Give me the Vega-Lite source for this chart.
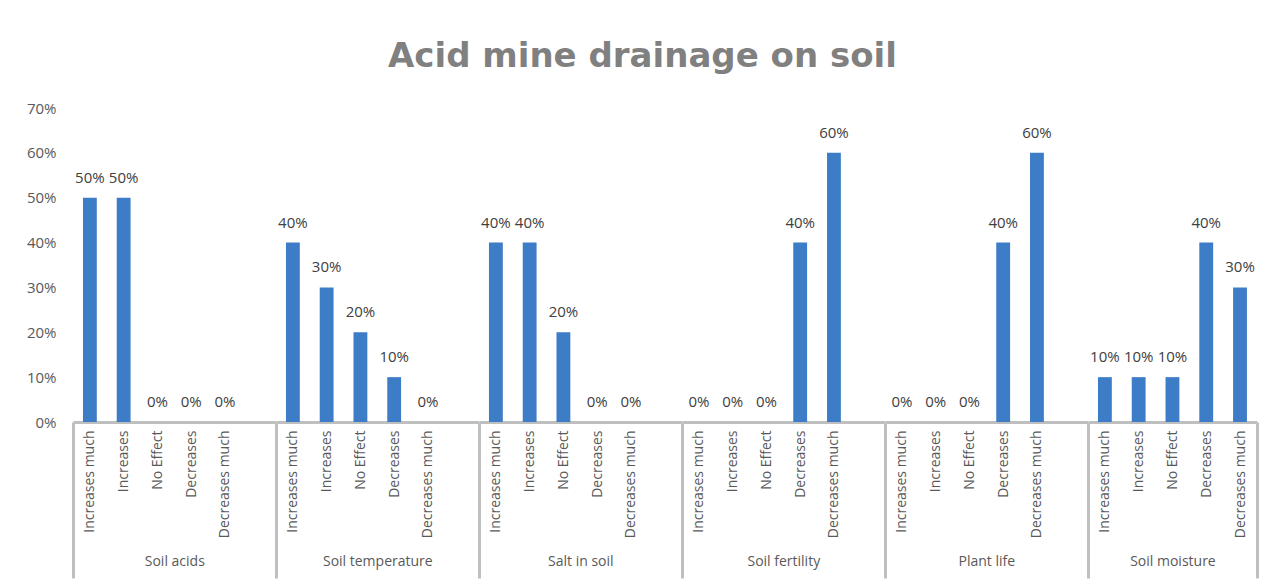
{
  "$schema": "https://vega.github.io/schema/vega-lite/v6.json",
  "padding": {"left": 26, "top": 40, "right": 5, "bottom": 0},
  "background": "white",
  "title": {"text": "Acid mine drainage on soil", "font": "DejaVu Sans", "fontSize": 34, "fontWeight": "bold", "color": "#808080", "anchor": "middle", "offset": 27},
  "data": {"values": [
    {"group": "Soil acids", "category": "Increases much", "value": 0.5},
    {"group": "Soil acids", "category": "Increases", "value": 0.5},
    {"group": "Soil acids", "category": "No Effect", "value": 0},
    {"group": "Soil acids", "category": "Decreases", "value": 0},
    {"group": "Soil acids", "category": "Decreases much", "value": 0},
    {"group": "Soil temperature", "category": "Increases much", "value": 0.4},
    {"group": "Soil temperature", "category": "Increases", "value": 0.3},
    {"group": "Soil temperature", "category": "No Effect", "value": 0.2},
    {"group": "Soil temperature", "category": "Decreases", "value": 0.1},
    {"group": "Soil temperature", "category": "Decreases much", "value": 0},
    {"group": "Salt in soil", "category": "Increases much", "value": 0.4},
    {"group": "Salt in soil", "category": "Increases", "value": 0.4},
    {"group": "Salt in soil", "category": "No Effect", "value": 0.2},
    {"group": "Salt in soil", "category": "Decreases", "value": 0},
    {"group": "Salt in soil", "category": "Decreases much", "value": 0},
    {"group": "Soil fertility", "category": "Increases much", "value": 0},
    {"group": "Soil fertility", "category": "Increases", "value": 0},
    {"group": "Soil fertility", "category": "No Effect", "value": 0},
    {"group": "Soil fertility", "category": "Decreases", "value": 0.4},
    {"group": "Soil fertility", "category": "Decreases much", "value": 0.6},
    {"group": "Plant life", "category": "Increases much", "value": 0},
    {"group": "Plant life", "category": "Increases", "value": 0},
    {"group": "Plant life", "category": "No Effect", "value": 0},
    {"group": "Plant life", "category": "Decreases", "value": 0.4},
    {"group": "Plant life", "category": "Decreases much", "value": 0.6},
    {"group": "Soil moisture", "category": "Increases much", "value": 0.1},
    {"group": "Soil moisture", "category": "Increases", "value": 0.1},
    {"group": "Soil moisture", "category": "No Effect", "value": 0.1},
    {"group": "Soil moisture", "category": "Decreases", "value": 0.4},
    {"group": "Soil moisture", "category": "Decreases much", "value": 0.3}
  ]},
  "spacing": 0,
  "bounds": "flush",
  "resolve": {"scale": {"x": "independent", "y": "independent"}},
  "hconcat": [
    {
      "width": 202.6, "height": 314,
      "transform": [{"filter": "datum.group === 'Soil acids'"}],
      "encoding": {
        "x": {"field": "category", "type": "nominal", "title": "Soil acids",
          "scale": {"domain": ["Increases much", "Increases", "No Effect", "Decreases", "Decreases much", " "], "paddingInner": 0, "paddingOuter": 0},
          "axis": {"tickOpacity": {"condition": {"test": "datum.extra", "value": 1}, "value": 0}}},
        "y": {"field": "value", "type": "quantitative", "scale": {"domain": [0, 0.7]},
          "axis": {"values": [0, 0.1, 0.2, 0.3, 0.4, 0.5, 0.6, 0.7], "format": ".0%", "title": null, "grid": false, "domain": false, "ticks": false, "labelPadding": 17, "labelFont": "Open Sans", "labelFontSize": 15, "labelColor": "#595959"}}
      },
      "layer": [
        {"mark": {"type": "bar", "width": {"band": 0.41}}},
        {"mark": {"type": "text"}, "encoding": {"text": {"field": "value", "type": "quantitative", "format": ".0%"}}}
      ]
    },
    {
      "width": 202.6, "height": 314,
      "transform": [{"filter": "datum.group === 'Soil temperature'"}],
      "encoding": {
        "x": {"field": "category", "type": "nominal", "title": "Soil temperature",
          "scale": {"domain": ["Increases much", "Increases", "No Effect", "Decreases", "Decreases much", " "], "paddingInner": 0, "paddingOuter": 0},
          "axis": {"tickOpacity": {"condition": {"test": "datum.extra", "value": 1}, "value": 0}}},
        "y": {"field": "value", "type": "quantitative", "scale": {"domain": [0, 0.7]}, "axis": null}
      },
      "layer": [
        {"mark": {"type": "bar", "width": {"band": 0.41}}},
        {"mark": {"type": "text"}, "encoding": {"text": {"field": "value", "type": "quantitative", "format": ".0%"}}}
      ]
    },
    {
      "width": 202.6, "height": 314,
      "transform": [{"filter": "datum.group === 'Salt in soil'"}],
      "encoding": {
        "x": {"field": "category", "type": "nominal", "title": "Salt in soil",
          "scale": {"domain": ["Increases much", "Increases", "No Effect", "Decreases", "Decreases much", " "], "paddingInner": 0, "paddingOuter": 0},
          "axis": {"tickOpacity": {"condition": {"test": "datum.extra", "value": 1}, "value": 0}}},
        "y": {"field": "value", "type": "quantitative", "scale": {"domain": [0, 0.7]}, "axis": null}
      },
      "layer": [
        {"mark": {"type": "bar", "width": {"band": 0.41}}},
        {"mark": {"type": "text"}, "encoding": {"text": {"field": "value", "type": "quantitative", "format": ".0%"}}}
      ]
    },
    {
      "width": 202.6, "height": 314,
      "transform": [{"filter": "datum.group === 'Soil fertility'"}],
      "encoding": {
        "x": {"field": "category", "type": "nominal", "title": "Soil fertility",
          "scale": {"domain": ["Increases much", "Increases", "No Effect", "Decreases", "Decreases much", " "], "paddingInner": 0, "paddingOuter": 0},
          "axis": {"tickOpacity": {"condition": {"test": "datum.extra", "value": 1}, "value": 0}}},
        "y": {"field": "value", "type": "quantitative", "scale": {"domain": [0, 0.7]}, "axis": null}
      },
      "layer": [
        {"mark": {"type": "bar", "width": {"band": 0.41}}},
        {"mark": {"type": "text"}, "encoding": {"text": {"field": "value", "type": "quantitative", "format": ".0%"}}}
      ]
    },
    {
      "width": 202.6, "height": 314,
      "transform": [{"filter": "datum.group === 'Plant life'"}],
      "encoding": {
        "x": {"field": "category", "type": "nominal", "title": "Plant life",
          "scale": {"domain": ["Increases much", "Increases", "No Effect", "Decreases", "Decreases much", " "], "paddingInner": 0, "paddingOuter": 0},
          "axis": {"tickOpacity": {"condition": {"test": "datum.extra", "value": 1}, "value": 0}}},
        "y": {"field": "value", "type": "quantitative", "scale": {"domain": [0, 0.7]}, "axis": null}
      },
      "layer": [
        {"mark": {"type": "bar", "width": {"band": 0.41}}},
        {"mark": {"type": "text"}, "encoding": {"text": {"field": "value", "type": "quantitative", "format": ".0%"}}}
      ]
    },
    {
      "width": 168.9, "height": 314,
      "transform": [{"filter": "datum.group === 'Soil moisture'"}],
      "encoding": {
        "x": {"field": "category", "type": "nominal", "title": "Soil moisture",
          "scale": {"domain": ["Increases much", "Increases", "No Effect", "Decreases", "Decreases much"], "paddingInner": 0, "paddingOuter": 0},
          "axis": {"tickOpacity": {"condition": {"test": "datum.extra || datum.value === 'Decreases much'", "value": 1}, "value": 0}}},
        "y": {"field": "value", "type": "quantitative", "scale": {"domain": [0, 0.7]}, "axis": null}
      },
      "layer": [
        {"mark": {"type": "bar", "width": {"band": 0.41}}},
        {"mark": {"type": "text"}, "encoding": {"text": {"field": "value", "type": "quantitative", "format": ".0%"}}}
      ]
    }
  ],
  "config": {
    "view": {"stroke": null},
    "bar": {"color": "#3d7cc6"},
    "text": {"font": "Open Sans", "fontSize": 15, "color": "#404040", "baseline": "alphabetic", "dy": -15},
    "axisX": {
      "labelAngle": -90, "labelFont": "Open Sans", "labelFontSize": 14, "labelColor": "#595959", "labelPadding": -148,
      "domainColor": "#bfbfbf", "domainWidth": 3, "tickBand": "extent", "tickSize": 156, "tickWidth": 3, "tickColor": "#bfbfbf",
      "titleFont": "Open Sans", "titleFontSize": 14, "titleFontWeight": "normal", "titleColor": "#595959", "titlePadding": -25, "grid": false
    }
  }
}
